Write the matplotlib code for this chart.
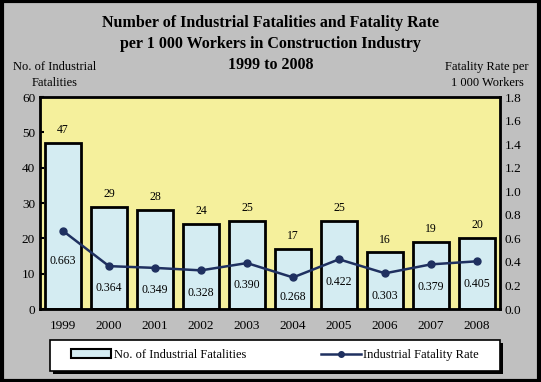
import numpy as np
import matplotlib.pyplot as plt
from matplotlib.patches import Rectangle
from matplotlib.lines import Line2D

plt.rcParams['font.family'] = ['Liberation Serif', 'DejaVu Serif']

years = ['1999', '2000', '2001', '2002', '2003', '2004', '2005', '2006', '2007', '2008']
fatalities = [47, 29, 28, 24, 25, 17, 25, 16, 19, 20]
rates = [0.663, 0.364, 0.349, 0.328, 0.390, 0.268, 0.422, 0.303, 0.379, 0.405]

bg = '#c0c0c0'
fig = plt.figure(figsize=(5.41, 3.82), dpi=100, facecolor=bg)

# outer black frame
fig.patches.append(Rectangle((0.003, 0.003), 0.994, 0.994, transform=fig.transFigure,
                             fill=False, ec='black', lw=3))

ax = fig.add_axes([40/541, 1-309/382, 460/541, 212/382])
ax.set_facecolor('#f5f09c')
x = np.arange(len(years))
ax.bar(x, fatalities, width=0.8, color='#d4ecf2', edgecolor='black', lw=2, zorder=2)
for xi, v in zip(x, fatalities):
    ax.annotate(str(v), (xi, v), xytext=(0, 5), textcoords='offset points',
                ha='center', va='bottom', fontsize=8.5)
ax.set_xlim(-0.5, 9.5)
ax.set_ylim(0, 60)
ax.set_yticks(range(0, 61, 10))
ax.set_xticks(x)
ax.set_xticklabels(years)
ax.tick_params(axis='y', direction='in', length=3, labelsize=9.5, width=1.5)
ax.tick_params(axis='x', length=0, labelsize=9.5, pad=8)
for s in ax.spines.values():
    s.set_linewidth(2)

ax2 = ax.twinx()
ax2.plot(x, rates, color='#1f3060', lw=1.8, marker='o', ms=5, zorder=3)
ax2.set_ylim(0, 1.8)
ax2.set_yticks(np.arange(0, 1.81, 0.2))
ax2.set_yticklabels(['%.1f' % t for t in np.arange(0, 1.81, 0.2)])
ax2.tick_params(axis='y', direction='in', length=0, labelsize=9.5)
offsets = [-22, -16, -16, -16, -16, -14, -16, -16, -16, -16]
for xi, r, o in zip(x, rates, offsets):
    ax2.annotate('%.3f' % r, (xi, r), xytext=(0, o), textcoords='offset points',
                 ha='center', va='center', fontsize=8.5)

fig.text(0.5, 1-44/382, 'Number of Industrial Fatalities and Fatality Rate\n'
         'per 1 000 Workers in Construction Industry\n1999 to 2008',
         ha='center', va='center', fontsize=11.5, fontweight='bold', linespacing=1.45)
fig.text(55/541, 1-75/382, 'No. of Industrial\nFatalities', ha='center', va='center',
         fontsize=9, linespacing=1.4)
fig.text(487/541, 1-75/382, 'Fatality Rate per\n1 000 Workers', ha='center', va='center',
         fontsize=9, linespacing=1.4)

# legend box with shadow
fig.patches.append(Rectangle((53/541, 1-374/382), 450/541, 31/382, transform=fig.transFigure,
                             fc='black', ec='none'))
fig.patches.append(Rectangle((50/541, 1-371/382), 450/541, 31/382, transform=fig.transFigure,
                             fc='white', ec='black', lw=1.2))
handles = [Rectangle((0, 0), 1, 1, fc='#d4ecf2', ec='black', lw=1.5),
           Line2D([], [], color='#1f3060', lw=1.8, marker='o', ms=4)]
fig.legend(handles, ['No. of Industrial Fatalities', 'Industrial Fatality Rate'],
           loc='center', bbox_to_anchor=(275/541, 1-355/382), ncol=2, frameon=False,
           fontsize=9, columnspacing=6, handlelength=3.2, handletextpad=0.2)

fig.savefig('out.png', dpi=100, facecolor=bg)
